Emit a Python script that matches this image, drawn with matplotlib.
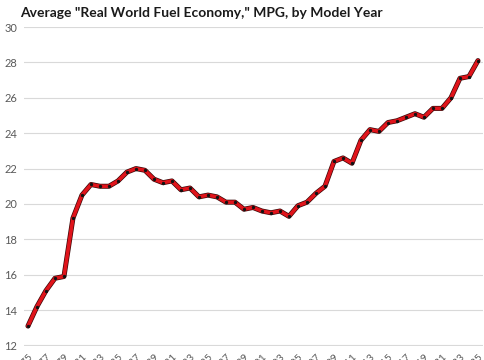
import matplotlib
matplotlib.use("Agg")
import matplotlib.pyplot as plt
import matplotlib.patheffects as pe

years = list(range(1975, 2026))
mpg = [13.1, 14.2, 15.1, 15.8, 15.9, 19.2, 20.5, 21.1, 21.0, 21.0,
       21.3, 21.8, 22.0, 21.9, 21.4, 21.2, 21.3, 20.8, 20.9, 20.4,
       20.5, 20.4, 20.1, 20.1, 19.7, 19.8, 19.6, 19.5, 19.6, 19.3,
       19.9, 20.1, 20.6, 21.0, 22.4, 22.6, 22.3, 23.6, 24.2, 24.1,
       24.6, 24.7, 24.9, 25.1, 24.9, 25.4, 25.4, 26.0, 27.1, 27.2,
       28.1]
y_ticks = [12, 14, 16, 18, 20, 22, 24, 26, 28, 30]
x_tick_years = list(range(1975, 2026, 2))
title = 'Average "Real World Fuel Economy," MPG, by Model Year'

plt.rcParams['font.family'] = ['Lato', 'DejaVu Sans']

fig = plt.figure(figsize=(4.85, 3.6), dpi=100)
ax = fig.add_axes([24/485, 1 - 345.5/360, (483-24)/485, (345.5-27)/360])

ax.plot(years, mpg, color='#e0141b', lw=2.6, solid_capstyle='round', solid_joinstyle='round',
        path_effects=[pe.Stroke(linewidth=3.6, foreground='#3a0808'), pe.Normal()],
        zorder=3)
ax.plot(years, mpg, linestyle='none', marker='o', ms=1.4, color='#111111', zorder=4)

ax.set_ylim(12, 30)
ax.set_yticks(y_ticks)
ax.set_xlim(1974.56, 2025.56)
ax.set_xticks(x_tick_years)
ax.set_xticklabels([str(y) for y in x_tick_years], rotation=45, ha='right',
                   fontsize=7.5, color='#595959', rotation_mode='anchor')
ax.tick_params(axis='x', length=0, pad=5)
ax.tick_params(axis='y', length=0, labelsize=8, labelcolor='#595959', pad=5)
ax.grid(axis='y', color='#d9d9d9', lw=0.8)
ax.set_axisbelow(True)
for s in ax.spines.values():
    s.set_visible(False)

fig.text(20/485, 1 - 13/360, title, fontsize=10, fontweight='bold', color='#1a1a1a',
         va='center', ha='left')

fig.savefig('out.png', dpi=100)
